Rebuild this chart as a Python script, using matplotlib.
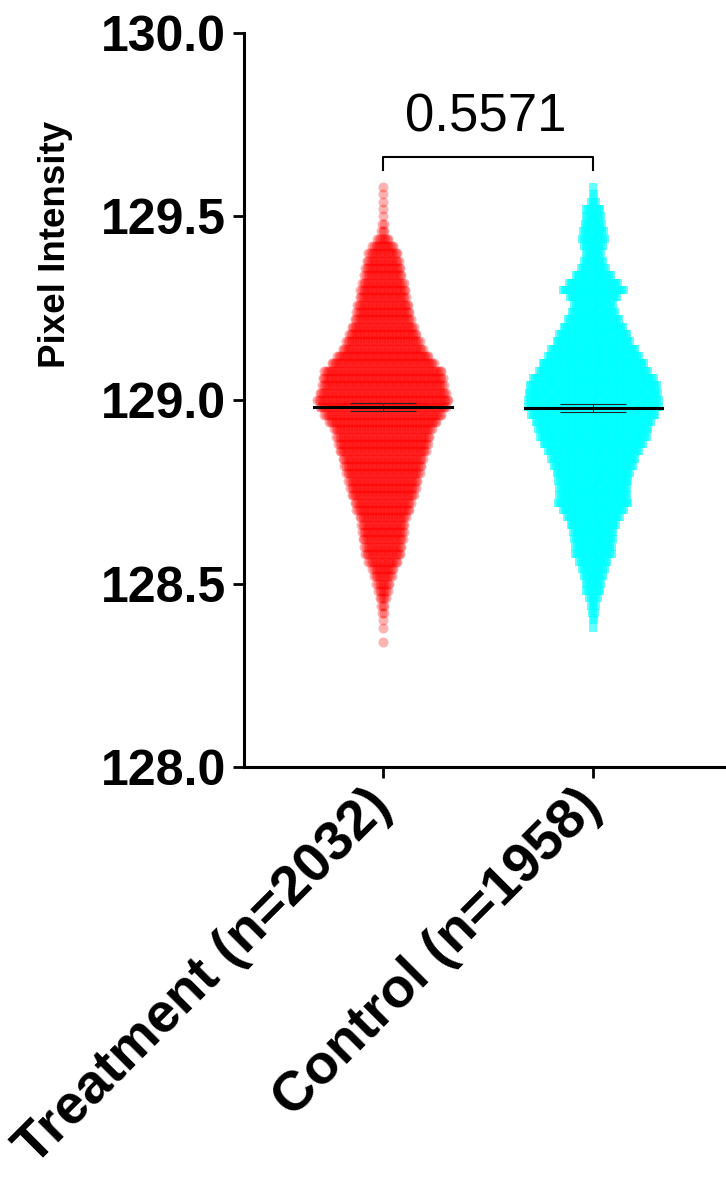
import numpy as np
import matplotlib
matplotlib.use("Agg")
import matplotlib.pyplot as plt

plt.rcParams['font.family'] = ['Liberation Sans', 'DejaVu Sans']

# categories and summary values
groups = ["Treatment (n=2032)", "Control (n=1958)"]
means = [128.981, 128.978]
sems = [0.011, 0.011]
p_value = "0.5571"

treat_bins = [128.34, 128.36, 128.38, 128.40, 128.42, 128.44, 128.46, 128.48, 128.50, 128.52,
              128.54, 128.56, 128.58, 128.60, 128.62, 128.64, 128.66, 128.68, 128.70, 128.72,
              128.74, 128.76, 128.78, 128.80, 128.82, 128.84, 128.86, 128.88, 128.90, 128.92,
              128.94, 128.96, 128.98, 129.00, 129.02, 129.04, 129.06, 129.08, 129.10, 129.12,
              129.14, 129.16, 129.18, 129.20, 129.22, 129.24, 129.26, 129.28, 129.30, 129.32,
              129.34, 129.36, 129.38, 129.40, 129.42, 129.44, 129.46, 129.48, 129.50, 129.52,
              129.54, 129.56, 129.58]
treat_counts = [1, 0, 1, 1, 2, 3, 5, 7, 9, 12,
                14, 19, 23, 24, 26, 27, 28, 30, 34, 36,
                40, 42, 44, 47, 49, 51, 55, 57, 59, 62,
                68, 74, 80, 83, 80, 77, 76, 74, 65, 58,
                51, 47, 43, 40, 36, 34, 33, 30, 29, 27,
                24, 23, 21, 19, 14, 8, 3, 2, 1, 1,
                1, 1, 1]

ctrl_bins = [128.38, 128.40, 128.42, 128.44, 128.46, 128.48, 128.50, 128.52, 128.54, 128.56,
             128.58, 128.60, 128.62, 128.64, 128.66, 128.68, 128.70, 128.72, 128.74, 128.76,
             128.78, 128.80, 128.82, 128.84, 128.86, 128.88, 128.90, 128.92, 128.94, 128.96,
             128.98, 129.00, 129.02, 129.04, 129.06, 129.08, 129.10, 129.12, 129.14, 129.16,
             129.18, 129.20, 129.22, 129.24, 129.26, 129.28, 129.30, 129.32, 129.34, 129.36,
             129.38, 129.40, 129.42, 129.44, 129.46, 129.48, 129.50, 129.52, 129.54, 129.56,
             129.58]
ctrl_counts = [1, 2, 3, 4, 6, 9, 10, 12, 14, 17,
               22, 22, 23, 24, 27, 31, 36, 41, 40, 40,
               41, 43, 46, 49, 53, 58, 62, 64, 67, 72,
               76, 76, 75, 74, 70, 63, 59, 53, 49, 43,
               40, 35, 30, 26, 23, 28, 36, 29, 21, 15,
               12, 10, 12, 14, 13, 11, 10, 9, 4, 2,
               1]


def swarm(center, bins, counts, spacing):
    xs, ys = [], []
    for y, c in zip(bins, counts):
        offs = (np.arange(c) - (c - 1) / 2) * spacing
        xs.extend(center + offs)
        ys.extend([y] * c)
    return np.array(xs), np.array(ys)


fig = plt.figure(figsize=(7.26, 11.77), dpi=100)
ax = fig.add_axes([0.336, 0.3483, 0.664, 0.6237])

tx, ty = swarm(0, treat_bins, treat_counts, 0.0076)
cx, cy = swarm(1, ctrl_bins, ctrl_counts, 0.0083)
ax.scatter(tx, ty, s=52, marker='o', color='#ff0000', alpha=0.3, linewidths=0, zorder=2)
ax.scatter(cx, cy, s=38, marker='s', color='#00ffff', alpha=0.6, linewidths=0, zorder=2)

for i, (m, e) in enumerate(zip(means, sems)):
    ax.plot([i - 0.327, i + 0.327], [m, m], color='black', lw=2.2, zorder=4)
    ax.errorbar(i, m, yerr=e, fmt='none', ecolor='#222222', elinewidth=0.8,
                capsize=24, capthick=0.8, zorder=3)

# significance bracket
ax.plot([0, 0, 1, 1], [129.627, 129.662, 129.662, 129.627], color='black', lw=1.5)
ax.text(0.49, 129.771, p_value, ha='center', va='center', fontsize=38)

ax.set_xlim(-0.66, 1.63)
ax.set_ylim(128, 130)
ax.set_yticks([128.0, 128.5, 129.0, 129.5, 130.0])
ax.set_yticklabels(["128.0", "128.5", "129.0", "129.5", "130.0"], fontsize=36, fontweight='bold')
ax.set_xticks([0, 1])
ax.set_xticklabels(groups, rotation=45, ha='right', va='center', rotation_mode='anchor',
                   fontsize=40, fontweight='bold')
ax.tick_params(axis='y', length=8, width=2, pad=5)
ax.tick_params(axis='x', length=8, width=2, pad=14)
for side in ['top', 'right']:
    ax.spines[side].set_visible(False)
for side in ['left', 'bottom']:
    ax.spines[side].set_linewidth(2.2)

fig.text(0.077, 0.792, "Pixel Intensity", rotation=90, ha='center', va='center',
         fontsize=26.5, fontweight='bold', family=['Liberation Sans Narrow', 'Liberation Sans'])

fig.savefig("out.png", dpi=100)
